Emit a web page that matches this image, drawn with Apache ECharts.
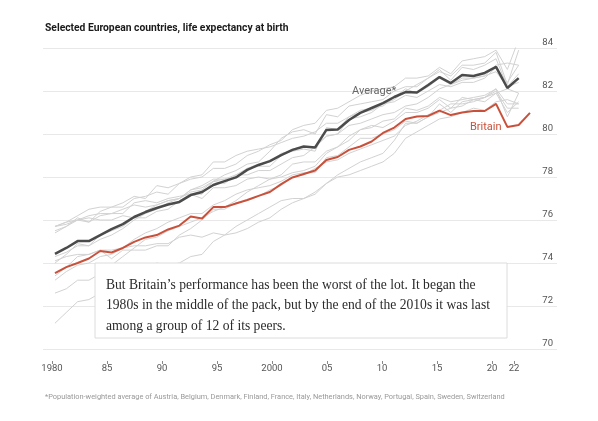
<!DOCTYPE html>
<html>
<head>
<meta charset="utf-8">
<script src="https://cdn.jsdelivr.net/npm/echarts@6/dist/echarts.min.js"></script>
<style>
  html, body { margin: 0; padding: 0; background: #fff; }
  #chart { width: 598px; height: 421px; }
</style>
</head>
<body>
<div id="chart"></div>
<script>
// years on the x axis
const years = [1980, 1981, 1982, 1983, 1984, 1985, 1986, 1987, 1988, 1989,
  1990, 1991, 1992, 1993, 1994, 1995, 1996, 1997, 1998, 1999,
  2000, 2001, 2002, 2003, 2004, 2005, 2006, 2007, 2008, 2009,
  2010, 2011, 2012, 2013, 2014, 2015, 2016, 2017, 2018, 2019,
  2020, 2021, 2022];
const tickYears = [1980, 1985, 1990, 1995, 2000, 2005, 2010, 2015, 2020, 2022];

// life expectancy, 1980-2021 (peers) / 1980-2022 (Britain)
const switzerland = [75.5, 75.7, 76.0, 75.9, 76.4, 76.6, 76.6, 77.0, 77.1, 77.3, 77.2, 77.7, 77.9, 78.0, 78.4, 78.4, 78.6, 79.0, 79.2, 79.5, 79.7, 80.2, 80.4, 80.5, 81.1, 81.2, 81.5, 81.8, 82.0, 82.1, 82.2, 82.6, 82.6, 82.7, 83.1, 82.8, 83.4, 83.5, 83.6, 83.9, 83.0, 84.4];
const spain = [75.4, 75.7, 76.1, 75.9, 76.2, 76.3, 76.5, 76.7, 76.6, 76.7, 76.9, 77.0, 77.4, 77.6, 77.9, 77.9, 78.0, 78.4, 78.5, 78.5, 79.0, 79.3, 79.4, 79.4, 79.9, 80.0, 80.7, 80.8, 81.0, 81.4, 81.6, 82.0, 82.3, 82.6, 82.9, 82.7, 83.2, 83.2, 83.3, 83.8, 82.3, 83.9];
const italy = [74.0, 74.4, 74.9, 74.8, 75.3, 75.5, 75.7, 76.1, 76.4, 76.7, 76.9, 77.0, 77.4, 77.5, 77.8, 78.1, 78.3, 78.6, 78.7, 79.2, 79.8, 80.1, 80.2, 80.0, 80.9, 80.8, 81.3, 81.4, 81.5, 81.6, 82.0, 82.2, 82.2, 82.6, 83.0, 82.5, 83.1, 83.0, 83.2, 83.5, 82.2, 82.8];
const sweden = [75.7, 75.9, 76.2, 76.5, 76.6, 76.6, 76.8, 77.1, 77.0, 77.6, 77.5, 77.7, 78.0, 78.1, 78.7, 78.7, 79.0, 79.2, 79.3, 79.4, 79.6, 79.8, 79.9, 80.1, 80.5, 80.5, 80.8, 81.0, 81.1, 81.4, 81.5, 81.8, 81.7, 82.0, 82.3, 82.2, 82.4, 82.4, 82.6, 83.1, 82.4, 83.2];
const norway = [75.7, 75.8, 76.0, 76.1, 76.0, 76.0, 76.2, 76.1, 76.1, 76.4, 76.5, 76.9, 77.2, 77.2, 77.8, 77.7, 78.1, 78.1, 78.3, 78.3, 78.6, 78.9, 79.0, 79.4, 79.9, 80.0, 80.4, 80.5, 80.7, 80.9, 81.0, 81.3, 81.4, 81.7, 82.1, 82.3, 82.5, 82.6, 82.7, 83.2, 83.3, 83.2];
const netherlands = [75.7, 75.9, 76.0, 76.2, 76.3, 76.3, 76.3, 76.8, 76.9, 76.8, 77.0, 77.1, 77.2, 77.0, 77.5, 77.5, 77.6, 77.9, 78.0, 77.9, 78.0, 78.2, 78.3, 78.5, 79.1, 79.4, 79.7, 80.2, 80.3, 80.6, 80.7, 81.2, 81.1, 81.3, 81.7, 81.5, 81.6, 81.7, 81.8, 82.1, 81.4, 81.4];
const france = [74.3, 74.5, 74.8, 74.8, 75.1, 75.3, 75.6, 76.0, 76.3, 76.5, 76.8, 77.0, 77.3, 77.4, 77.8, 77.9, 78.1, 78.4, 78.6, 78.7, 79.1, 79.2, 79.3, 79.2, 80.3, 80.2, 80.8, 81.1, 81.2, 81.3, 81.7, 82.1, 81.9, 82.2, 82.6, 82.3, 82.6, 82.6, 82.7, 82.9, 82.2, 82.4];
const austria = [72.6, 72.8, 73.2, 73.2, 73.5, 73.9, 74.3, 74.7, 75.1, 75.2, 75.5, 75.7, 75.9, 76.1, 76.4, 76.6, 76.9, 77.3, 77.6, 77.9, 78.1, 78.6, 78.7, 78.7, 79.2, 79.4, 79.9, 80.2, 80.4, 80.3, 80.6, 81.0, 81.0, 81.2, 81.6, 81.2, 81.7, 81.6, 81.7, 82.0, 81.2, 81.2];
const belgium = [73.2, 73.6, 73.9, 74.0, 74.3, 74.4, 74.7, 75.1, 75.4, 75.6, 75.9, 76.1, 76.3, 76.3, 76.7, 76.9, 77.2, 77.4, 77.5, 77.6, 77.8, 78.1, 78.2, 78.2, 78.9, 79.0, 79.4, 79.8, 79.8, 80.0, 80.2, 80.6, 80.5, 80.8, 81.4, 81.0, 81.5, 81.6, 81.7, 82.1, 80.8, 81.9];
const denmark = [74.1, 74.3, 74.4, 74.4, 74.6, 74.6, 74.7, 74.8, 74.8, 74.9, 74.9, 75.2, 75.3, 75.2, 75.4, 75.3, 75.7, 76.0, 76.3, 76.6, 76.9, 77.0, 77.0, 77.3, 77.7, 78.0, 78.1, 78.3, 78.5, 78.7, 79.1, 79.8, 80.1, 80.4, 80.7, 80.8, 81.0, 81.2, 81.1, 81.5, 81.6, 81.4];
const finland = [73.4, 73.8, 74.3, 74.4, 74.6, 74.2, 74.6, 74.6, 74.6, 74.8, 74.8, 75.3, 75.6, 76.0, 76.5, 76.5, 76.8, 76.9, 77.1, 77.4, 77.6, 78.0, 78.1, 78.4, 78.7, 78.8, 79.1, 79.3, 79.5, 79.7, 79.9, 80.4, 80.6, 80.9, 81.1, 81.4, 81.4, 81.5, 81.7, 81.9, 82.1, 81.9];
const portugal = [71.2, 71.7, 72.2, 72.3, 72.6, 72.9, 73.3, 73.7, 73.7, 74.0, 73.9, 74.0, 74.3, 74.4, 75.0, 75.3, 75.4, 75.6, 75.9, 76.1, 76.5, 76.8, 77.0, 77.2, 77.7, 78.1, 78.4, 78.7, 78.9, 79.1, 79.7, 80.5, 80.5, 80.8, 81.0, 81.2, 81.3, 81.6, 81.5, 81.9, 81.0, 81.5];

const average = [74.42, 74.70, 75.02, 75.02, 75.30, 75.58, 75.81, 76.14, 76.37, 76.56,
  76.72, 76.84, 77.16, 77.30, 77.63, 77.81, 77.98, 78.33, 78.56, 78.74,
  79.02, 79.26, 79.42, 79.37, 80.19, 80.21, 80.65, 80.98, 81.21, 81.44,
  81.72, 81.95, 81.93, 82.28, 82.65, 82.37, 82.74, 82.70, 82.84, 83.12,
  82.14, 82.60];
const britain = [73.53, 73.81, 74.00, 74.21, 74.56, 74.49, 74.70, 74.98, 75.19, 75.30,
  75.56, 75.74, 76.16, 76.07, 76.60, 76.60, 76.77, 76.93, 77.12, 77.30,
  77.67, 77.98, 78.14, 78.30, 78.79, 78.93, 79.26, 79.42, 79.65, 80.05,
  80.30, 80.70, 80.81, 80.84, 81.09, 80.88, 81.00, 81.07, 81.07, 81.40,
  80.33, 80.42, 80.98];

const peers = [switzerland, spain, italy, sweden, norway, netherlands, france,
  austria, belgium, denmark, finland, portugal];

const chart = echarts.init(document.getElementById('chart'), null, { renderer: 'canvas' });

const toPairs = vals => vals.map((v, i) => [years[i], v]);
const sans = '"Roboto", "Liberation Sans", sans-serif';

const series = peers.map(p => ({
  type: 'line',
  data: toPairs(p),
  symbol: 'none',
  silent: true,
  z: 1,
  lineStyle: { color: '#d2d2d2', width: 1 }
}));
series.push({
  name: 'Average*',
  type: 'line',
  data: toPairs(average),
  symbol: 'none',
  z: 3,
  lineStyle: { color: '#4b4b4b', width: 2.5 }
});
series.push({
  name: 'Britain',
  type: 'line',
  data: toPairs(britain),
  symbol: 'none',
  z: 4,
  lineStyle: { color: '#c9513b', width: 2 }
});

const option = {
  animation: false,
  backgroundColor: '#fff',
  grid: { left: 43, right: 41, top: 48, bottom: 72 },
  xAxis: [
    { type: 'value', min: 1978.94, max: 2024.39, show: false },
    {
      // separate axis for the tick labels, as printed under the chart
      type: 'value',
      min: 1979.18,
      max: 2025.91,
      position: 'bottom',
      offset: 12,
      axisLine: { show: false },
      splitLine: { show: false },
      axisTick: { show: true, customValues: tickYears, length: 3, lineStyle: { color: '#888' } },
      axisLabel: {
        customValues: tickYears,
        margin: 3,
        fontSize: 9.5,
        color: '#555',
        fontFamily: sans,
        formatter: v => (v === 1980 || v === 2000) ? String(v) : String(v).slice(2)
      }
    }
  ],
  yAxis: {
    type: 'value',
    position: 'right',
    min: 70,
    max: 84,
    interval: 2,
    axisLine: { show: false },
    axisTick: { show: false },
    splitLine: { lineStyle: { color: '#e8e8e8', width: 1 } },
    axisLabel: {
      inside: true,
      verticalAlign: 'bottom',
      margin: 4,
      fontSize: 9.5,
      color: '#555',
      fontFamily: sans
    }
  },
  series: series,
  graphic: [
    {
      type: 'text', left: 45, top: 23,
      style: { text: 'Selected European countries, life expectancy at birth', fill: '#1a1a1a',
        font: 'bold 10.3px ' + sans }
    },
    {
      type: 'text', left: 352, top: 86, z: 10,
      style: { text: 'Average*', fill: '#666', font: '11px ' + sans }
    },
    {
      type: 'text', left: 470, top: 122, z: 10,
      style: { text: 'Britain', fill: '#c9513b', font: '11px ' + sans }
    },
    {
      type: 'rect', z: 20,
      shape: { x: 95, y: 263, width: 412, height: 75 },
      style: { fill: '#fff', stroke: '#dcdcdc', lineWidth: 1 }
    },
    {
      type: 'text', left: 106, top: 275, z: 21,
      style: {
        text: 'But Britain\u2019s performance has been the worst of the lot. It began the\n1980s in the middle of the pack, but by the end of the 2010s it was last\namong a group of 12 of its peers.',
        fill: '#2a2a2a',
        font: '13.6px "Liberation Serif", "DejaVu Serif", serif',
        lineHeight: 20.5
      }
    },
    {
      type: 'text', left: 45, top: 394,
      style: {
        text: '*Population-weighted average of Austria, Belgium, Denmark, Finland, France, Italy, Netherlands, Norway, Portugal, Spain, Sweden, Switzerland',
        fill: '#999', font: '7.4px ' + sans
      }
    }
  ]
};

chart.setOption(option);
</script>
</body>
</html>
